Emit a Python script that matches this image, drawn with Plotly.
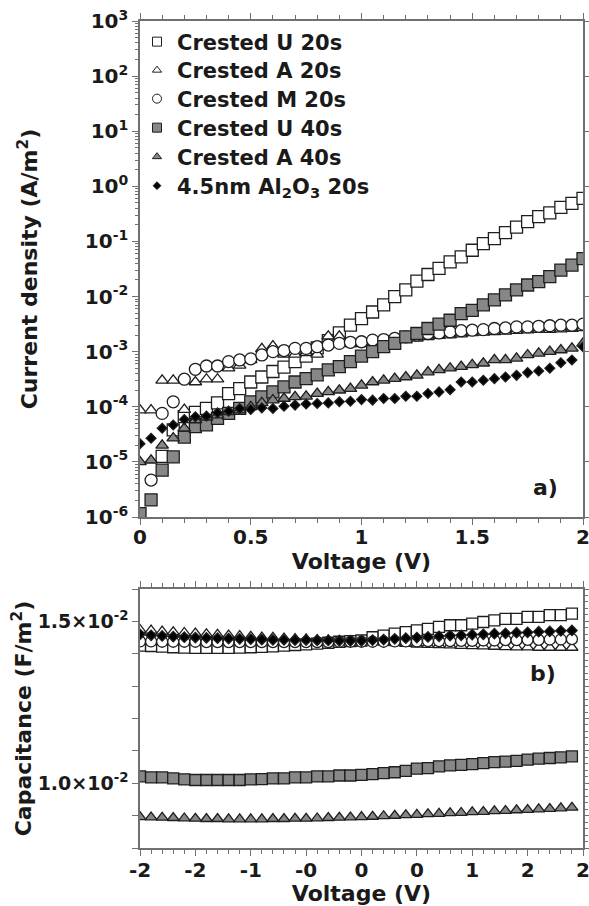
import plotly.graph_objects as go

# ---------------- data: panel a) J-V (log10 of current density, A/m^2) ----------------
V_a = [0.0, 0.05, 0.1, 0.15, 0.2, 0.25, 0.3, 0.35, 0.4, 0.45, 0.5, 0.55, 0.6, 0.65, 0.7,
       0.75, 0.8, 0.85, 0.9, 0.95, 1.0, 1.05, 1.1, 1.15, 1.2, 1.25, 1.3, 1.35, 1.4, 1.45,
       1.5, 1.55, 1.6, 1.65, 1.7, 1.75, 1.8, 1.85, 1.9, 1.95, 2.0]

logJ_U20 = [None, None, -4.90, -4.42, -4.18, -4.10, -4.03, -3.93, -3.76, -3.67, -3.55, -3.46,
            -3.36, -3.28, -3.18, -3.08, -2.93, -2.80, -2.66, -2.52, -2.40, -2.28, -2.15, -2.00,
            -1.88, -1.72, -1.60, -1.49, -1.37, -1.28, -1.16, -1.04, -0.95, -0.84, -0.74, -0.64,
            -0.55, -0.48, -0.38, -0.31, -0.22]
logJ_A20 = [-4.06, -4.06, -3.52, -3.52, -4.05, -3.55, -3.50, -3.50, -3.30, -3.25, -3.15, -2.95,
            -2.90, -3.05, -3.05, -3.02, -3.05, -2.72, -2.72, -2.86, -2.86, -2.84, -2.82, -2.80,
            -2.78, -2.76, -2.73, -2.71, -2.70, -2.68, -2.66, -2.65, -2.64, -2.63, -2.62, -2.61,
            -2.60, -2.60, -2.59, -2.58, -2.57]
logJ_M20 = [None, -5.33, -4.12, -3.91, -3.50, -3.32, -3.26, -3.26, -3.18, -3.15, -3.13, -3.06,
            -3.00, -2.98, -2.94, -2.94, -2.91, -2.88, -2.85, -2.83, -2.82, -2.79, -2.78, -2.76,
            -2.73, -2.70, -2.67, -2.66, -2.64, -2.62, -2.61, -2.60, -2.58, -2.57, -2.55, -2.55,
            -2.54, -2.53, -2.52, -2.52, -2.50]
logJ_U40 = [-5.94, -5.69, -5.15, -4.91, -4.55, -4.36, -4.33, -4.21, -4.12, -4.03, -3.91, -3.82,
            -3.73, -3.64, -3.55, -3.49, -3.42, -3.33, -3.27, -3.18, -3.08, -3.00, -2.91, -2.85,
            -2.73, -2.67, -2.58, -2.50, -2.43, -2.31, -2.25, -2.15, -2.06, -1.97, -1.88, -1.79,
            -1.73, -1.64, -1.52, -1.43, -1.31]
logJ_A40 = [-5.00, -4.97, -4.70, -4.57, -4.39, -4.24, -4.19, -4.15, -4.09, -4.06, -4.00, -3.93,
            -3.88, -3.85, -3.82, -3.81, -3.76, -3.73, -3.70, -3.67, -3.61, -3.55, -3.52, -3.49,
            -3.46, -3.43, -3.37, -3.33, -3.30, -3.27, -3.24, -3.21, -3.15, -3.15, -3.12, -3.06,
            -3.03, -3.00, -2.97, -2.94, -2.85]
logJ_Al2O3 = [-4.67, -4.57, -4.39, -4.33, -4.23, -4.18, -4.17, -4.11, -4.08, -4.03, -4.05, -4.02,
              -4.03, -3.99, -3.97, -3.95, -3.94, -3.93, -3.91, -3.90, -3.87, -3.88, -3.85, -3.85,
              -3.81, -3.81, -3.76, -3.73, -3.69, -3.55, -3.55, -3.52, -3.49, -3.46, -3.43, -3.38,
              -3.35, -3.30, -3.20, -3.15, -2.91]

# ---------------- data: panel b) C-V (F/m^2) ----------------
V_b = [-2.0, -1.9, -1.8, -1.7, -1.6, -1.5, -1.4, -1.3, -1.2, -1.1, -1.0, -0.9, -0.8, -0.7,
       -0.6, -0.5, -0.4, -0.3, -0.2, -0.1, 0.0, 0.1, 0.2, 0.3, 0.4, 0.5, 0.6, 0.7, 0.8, 0.9,
       1.0, 1.1, 1.2, 1.3, 1.4, 1.5, 1.6, 1.7, 1.8, 1.9]

C_U20 = [0.01425, 0.01424, 0.01422, 0.01420, 0.01419, 0.01418, 0.01418, 0.01418, 0.01418, 0.01419,
         0.01420, 0.01421, 0.01423, 0.01425, 0.01427, 0.01429, 0.01431, 0.01434, 0.01437, 0.01439,
         0.01441, 0.01451, 0.01456, 0.01462, 0.01467, 0.01472, 0.01477, 0.01483, 0.01488, 0.01488,
         0.01493, 0.01498, 0.01503, 0.01508, 0.01508, 0.01514, 0.01514, 0.01519, 0.01519, 0.01524]
C_A20 = [0.01474, 0.01472, 0.01469, 0.01467, 0.01465, 0.01463, 0.01461, 0.01459, 0.01457, 0.01455,
         0.01453, 0.01451, 0.01450, 0.01448, 0.01446, 0.01445, 0.01443, 0.01442, 0.01441, 0.01440,
         0.01439, 0.01437, 0.01435, 0.01433, 0.01431, 0.01429, 0.01428, 0.01427, 0.01426, 0.01425,
         0.01424, 0.01423, 0.01422, 0.01421, 0.01420, 0.01420, 0.01419, 0.01419, 0.01419, 0.01419]
C_M20 = [0.01438, 0.01438, 0.01437, 0.01437, 0.01437, 0.01437, 0.01436, 0.01436, 0.01436, 0.01436,
         0.01436, 0.01436, 0.01436, 0.01436, 0.01436, 0.01436, 0.01436, 0.01436, 0.01437, 0.01437,
         0.01437, 0.01437, 0.01437, 0.01438, 0.01438, 0.01438, 0.01439, 0.01439, 0.01439, 0.01440,
         0.01440, 0.01441, 0.01441, 0.01442, 0.01442, 0.01443, 0.01443, 0.01444, 0.01444, 0.01445]
C_U40 = [0.01021, 0.01018, 0.01018, 0.01015, 0.01012, 0.01010, 0.01010, 0.01010, 0.01010, 0.01010,
         0.01012, 0.01013, 0.01015, 0.01015, 0.01018, 0.01018, 0.01021, 0.01021, 0.01024, 0.01024,
         0.01026, 0.01028, 0.01031, 0.01034, 0.01038, 0.01045, 0.01047, 0.01052, 0.01055, 0.01057,
         0.01059, 0.01062, 0.01065, 0.01067, 0.01069, 0.01073, 0.01076, 0.01078, 0.01080, 0.01083]
C_A40 = [0.00896, 0.00895, 0.00894, 0.00893, 0.00892, 0.00891, 0.00890, 0.00890, 0.00889, 0.00889,
         0.00889, 0.00889, 0.00890, 0.00890, 0.00891, 0.00891, 0.00892, 0.00893, 0.00894, 0.00895,
         0.00896, 0.00897, 0.00899, 0.00900, 0.00902, 0.00903, 0.00905, 0.00906, 0.00908, 0.00909,
         0.00911, 0.00912, 0.00914, 0.00915, 0.00917, 0.00918, 0.00920, 0.00921, 0.00923, 0.00925]
C_Al2O3 = [0.01460, 0.01457, 0.01455, 0.01453, 0.01451, 0.01450, 0.01449, 0.01448, 0.01447, 0.01446,
           0.01445, 0.01444, 0.01443, 0.01443, 0.01442, 0.01442, 0.01441, 0.01441, 0.01440, 0.01440,
           0.01440, 0.01442, 0.01444, 0.01446, 0.01448, 0.01450, 0.01452, 0.01454, 0.01456, 0.01457,
           0.01459, 0.01460, 0.01462, 0.01463, 0.01465, 0.01466, 0.01468, 0.01469, 0.01471, 0.01472]

series_names = ["Crested U 20s", "Crested A 20s", "Crested M 20s",
                "Crested U 40s", "Crested A 40s", "4.5nm Al<sub>2</sub>O<sub>3</sub> 20s"]

# tick labels
ya_tickvals = [1e-6, 1e-5, 1e-4, 1e-3, 1e-2, 1e-1, 1e0, 1e1, 1e2, 1e3]
ya_ticktext = ["10<sup>-6</sup>", "10<sup>-5</sup>", "10<sup>-4</sup>", "10<sup>-3</sup>",
               "10<sup>-2</sup>", "10<sup>-1</sup>", "10<sup>0</sup>", "10<sup>1</sup>",
               "10<sup>2</sup>", "10<sup>3</sup>"]
xa_tickvals = [0, 0.5, 1, 1.5, 2]
xa_ticktext = ["0", "0.5", "1", "1.5", "2"]
xb_tickvals = [-2, -1.5, -1, -0.5, 0, 0.5, 1, 1.5, 2]
xb_ticktext = ["-2", "-2", "-1", "-0", "0", "0", "1", "2", "2"]
yb_tickvals = [0.010, 0.015]
yb_ticktext = ["1.0×10<sup>-2</sup>", "1.5×10<sup>-2</sup>"]

# ---------------- styles ----------------
GRAY = "#878787"
EDGE = "#1e1e1e"
AX = "#707070"
FONT = "DejaVu Sans"
TXT = "#1a1a1a"

styles = [
    dict(symbol="square", color="white"),
    dict(symbol="triangle-up", color="white"),
    dict(symbol="circle", color="white"),
    dict(symbol="square", color=GRAY),
    dict(symbol="triangle-up", color=GRAY),
    dict(symbol="diamond", color="black"),
]
size_a = [12, 11, 12, 12, 11, 7.5]
size_b = [11, 10.5, 11, 11, 10.5, 8]
size_leg = [9, 8, 9, 9, 8, 6]

logs_a = [logJ_U20, logJ_A20, logJ_M20, logJ_U40, logJ_A40, logJ_Al2O3]
caps_b = [C_U20, C_A20, C_M20, C_U40, C_A40, C_Al2O3]

# page geometry: the page margin is removed (post_script), so figure px == page px
W, H = 589, 906
def px_x(p):
    return p / W
def px_y(p):
    return 1 - p / H

fig = go.Figure()

for i, name in enumerate(series_names):
    st = styles[i]
    J = [None if v is None else 10 ** v for v in logs_a[i]]
    fig.add_trace(go.Scatter(
        x=V_a, y=J, mode="markers", name=name, showlegend=False,
        marker=dict(symbol=st["symbol"], color=st["color"], size=size_a[i],
                    line=dict(color=EDGE, width=1.3)),
        xaxis="x", yaxis="y"))

for i, name in enumerate(series_names):
    st = styles[i]
    fig.add_trace(go.Scatter(
        x=V_b, y=caps_b[i], mode="markers", name=name, showlegend=False,
        marker=dict(symbol=st["symbol"], color=st["color"], size=size_b[i],
                    line=dict(color=EDGE, width=1.3)),
        xaxis="x2", yaxis="y2"))

# empty traces so the right-hand tick axes get drawn
fig.add_trace(go.Scatter(x=[None], y=[None], mode="markers", showlegend=False,
                         hoverinfo="skip", xaxis="x", yaxis="y3"))
fig.add_trace(go.Scatter(x=[None], y=[None], mode="markers", showlegend=False,
                         hoverinfo="skip", xaxis="x2", yaxis="y4"))

# legend entries: one legend per row so rows sit at the reference spacing
leg_rows_y = [42, 70.5, 99, 128, 157, 186]
legend_layout = {}
for i, name in enumerate(series_names):
    st = styles[i]
    key = "legend" if i == 0 else f"legend{i + 1}"
    fig.add_trace(go.Scatter(
        x=[None], y=[None], mode="markers", name=name, showlegend=True, legend=key,
        marker=dict(symbol=st["symbol"], color=st["color"], size=size_leg[i],
                    line=dict(color=EDGE, width=1.0)),
        xaxis="x", yaxis="y"))
    legend_layout[key] = dict(
        x=px_x(137), y=px_y(leg_rows_y[i]), xanchor="left", yanchor="middle",
        bgcolor="rgba(0,0,0,0)", borderwidth=0,
        font=dict(family=FONT, size=21, color=TXT, weight="bold"),
        itemsizing="trace")

tickfont = dict(family=FONT, size=20, color=TXT, weight="bold")
titlefont = dict(family=FONT, size=22, color=TXT, weight="bold")

base = dict(showline=True, linecolor=AX, linewidth=1.5, ticks="outside", tickcolor=AX,
            tickwidth=1.2, showgrid=False, zeroline=False, automargin=False, tickfont=tickfont,
            ticklabeloverflow="allow")
base_b = dict(base)
base_b["tickfont"] = dict(family=FONT, size=19, color=TXT, weight="bold")

fig.update_layout(
    width=W, height=H,
    margin=dict(l=0, r=0, t=0, b=0),
    paper_bgcolor="white", plot_bgcolor="white",
    font=dict(family=FONT, color=TXT, weight="bold"),
    xaxis=dict(domain=[px_x(140), px_x(583)], anchor="y", range=[0, 2], mirror="ticks",
               tickvals=xa_tickvals, ticktext=xa_ticktext, ticklen=6, ticklabelstandoff=-5,
               minor=dict(dtick=0.1, ticks="outside", ticklen=4, tickcolor=AX, tickwidth=1),
               title=dict(text="Voltage (V)", font=titlefont, standoff=4),
               **base),
    yaxis=dict(domain=[px_y(517), px_y(21)], anchor="x", type="log", range=[-6, 3],
               tickvals=ya_tickvals, ticktext=ya_ticktext, ticklen=6,
               minor=dict(ticks="outside", ticklen=3, tickcolor=AX, tickwidth=1,
                          tickvals=[m * 10 ** e for e in range(-6, 3) for m in range(2, 10)]),
               title=dict(text="Current density (A/m<sup>2</sup>)", font=titlefont, standoff=41),
               **base),
    yaxis3=dict(overlaying="y", anchor="x", side="right", type="log", range=[-6, 3],
                tickvals=ya_tickvals, ticklen=6, showticklabels=False, **base),
    xaxis2=dict(domain=[px_x(140), px_x(583)], anchor="y2", range=[-2, 2], mirror="ticks",
                tickvals=xb_tickvals, ticktext=xb_ticktext, ticklen=6, ticklabelstandoff=-3,
                minor=dict(dtick=0.1, ticks="outside", ticklen=4, tickcolor=AX, tickwidth=1),
                title=dict(text="Voltage (V)", font=titlefont, standoff=11),
                **base),
    yaxis2=dict(domain=[px_y(848), px_y(589)], anchor="x2", range=[0.008, 0.016],
                tickvals=yb_tickvals, ticktext=yb_ticktext, ticklen=6,
                minor=dict(dtick=0.001, ticks="outside", ticklen=6, tickcolor=AX, tickwidth=1.2),
                title=dict(text="Capacitance (F/m<sup>2</sup>)", font=titlefont, standoff=0),
                **base_b),
    yaxis4=dict(overlaying="y2", anchor="x2", side="right", range=[0.008, 0.016],
                dtick=0.001, ticklen=6, showticklabels=False,
                minor=dict(dtick=0.0002, ticks="outside", ticklen=3, tickcolor=AX, tickwidth=1),
                **base),
    annotations=[
        dict(text="a)", x=px_x(545), y=px_y(487), xref="paper", yref="paper",
             xanchor="center", yanchor="middle", showarrow=False,
             font=dict(family=FONT, size=22, color=TXT, weight="bold")),
        dict(text="b)", x=px_x(543), y=px_y(673), xref="paper", yref="paper",
             xanchor="center", yanchor="middle", showarrow=False,
             font=dict(family=FONT, size=22, color=TXT, weight="bold")),
    ],
    **legend_layout,
)

fig.write_html("out.html", config={"displayModeBar": False},
               post_script="document.body.style.margin='0';document.body.style.overflow='hidden';")
